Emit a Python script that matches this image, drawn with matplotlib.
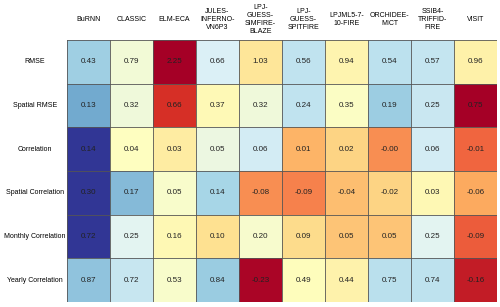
import numpy as np
import matplotlib.pyplot as plt
from matplotlib import colors

plt.rcParams['font.family'] = ['Liberation Sans', 'DejaVu Sans']

models = ["BuRNN", "CLASSIC", "ELM-ECA", "JULES-\nINFERNO-\nVN6P3", "LPJ-\nGUESS-\nSIMFIRE-\nBLAZE",
          "LPJ-\nGUESS-\nSPITFIRE", "LPJML5-7-\n10-FIRE", "ORCHIDEE-\nMICT", "SSIB4-\nTRIFFID-\nFIRE", "VISIT"]
metrics = ["RMSE", "Spatial RMSE", "Correlation", "Spatial Correlation",
           "Monthly Correlation", "Yearly Correlation"]

rmse = [0.43, 0.79, 2.25, 0.66, 1.03, 0.56, 0.94, 0.54, 0.57, 0.96]
spatial_rmse = [0.13, 0.32, 0.66, 0.37, 0.32, 0.24, 0.35, 0.19, 0.25, 0.75]
corr = [0.14, 0.04, 0.03, 0.05, 0.06, 0.01, 0.02, -0.00, 0.06, -0.01]
spatial_corr = [0.30, 0.17, 0.05, 0.14, -0.08, -0.09, -0.04, -0.02, 0.03, -0.06]
monthly_corr = [0.72, 0.25, 0.16, 0.10, 0.20, 0.09, 0.05, 0.05, 0.25, -0.09]
yearly_corr = [0.87, 0.72, 0.53, 0.84, -0.23, 0.49, 0.44, 0.75, 0.74, -0.16]
# lower is better for the error rows
lower_better = [True, True, False, False, False, False]

vals = np.array([rmse, spatial_rmse, corr, spatial_corr, monthly_corr, yearly_corr])

# colour each row by its z-score
z = (vals - vals.mean(axis=1, keepdims=True)) / vals.std(axis=1, keepdims=True)
z[np.array(lower_better)] *= -1
norm = colors.Normalize(-2, 2, clip=True)
rgb = plt.get_cmap('RdYlBu')(norm(z))

fig = plt.figure(figsize=(5, 3.07), dpi=100)
ax = fig.add_axes([67/500, 5/307, 430/500, 262/307])
nr, nc = vals.shape
ax.imshow(rgb, aspect='auto', extent=(0, nc, nr, 0), interpolation='nearest')

for i in range(nr):
    for j in range(nc):
        ax.text(j + 0.5, i + 0.5, f"{vals[i, j]:.2f}", ha='center', va='center', fontsize=5.8, color='#222222')
for k in range(nc + 1):
    ax.axvline(k, color='#555555', lw=0.6)
for k in range(nr + 1):
    ax.axhline(k, color='#555555', lw=0.6)

ax.set_xlim(0, nc)
ax.set_ylim(nr, 0)
ax.set_xticks([])
ax.set_yticks([])
for s in ax.spines.values():
    s.set_visible(False)

for j, m in enumerate(models):
    ax.text(j + 0.5, -0.47, m, ha='center', va='center', fontsize=5, linespacing=1.25)
for i, m in enumerate(metrics):
    ax.text(-0.75, i + 0.5, m, ha='center', va='center', fontsize=5)

fig.savefig("out.png", dpi=100)
